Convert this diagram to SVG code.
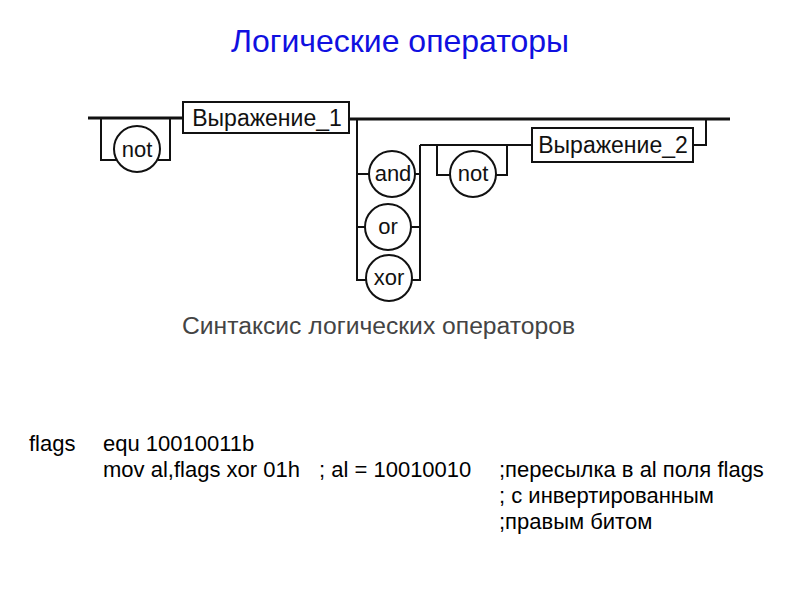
<svg xmlns="http://www.w3.org/2000/svg" width="800" height="600" viewBox="0 0 800 600">
<style>
.ln{fill:none;stroke:#111;stroke-width:2}
.main{fill:none;stroke:#111;stroke-width:3}
.circ{fill:#fff;stroke:#111;stroke-width:2}
.box{fill:#fff;stroke:#111;stroke-width:2}
.lbl{font-family:"Liberation Sans",Arial,sans-serif;font-size:22px;fill:#111;text-anchor:middle}
.code{font-family:"Liberation Sans",Arial,sans-serif;font-size:22px;fill:#000}
</style>
<rect width="800" height="600" fill="#fff"/>
<text x="400" y="52" style="font-family:'Liberation Sans',Arial,sans-serif;font-size:32px;fill:#1010e0" text-anchor="middle">Логические операторы</text>
<g id="connectors">
<path class="main" d="M88,118 H183"/>
<path class="ln" d="M101,118 V160 H117"/>
<path class="ln" d="M158,160 H170 V118"/>
<path class="main" d="M349,119 H730"/>
<path class="ln" d="M357,119 V280 H366"/>
<path class="ln" d="M357,174 H369"/>
<path class="ln" d="M357,227 H366"/>
<path class="ln" d="M420,145 V280 H411"/>
<path class="ln" d="M415,174 H420"/>
<path class="ln" d="M411,227 H420"/>
<path class="ln" d="M420,145 H532"/>
<path class="ln" d="M437,145 V175 H451"/>
<path class="ln" d="M496,175 H507 V145"/>
<path class="ln" d="M693,145 H706 V119"/>
</g>
<g id="not1">
<circle class="circ" cx="137" cy="149" r="23"/>
<text class="lbl" x="137" y="157">not</text>
</g>
<g id="expr1">
<rect class="box" x="183" y="102" width="166" height="31"/>
<text class="lbl" x="267" y="126" style="font-size:23px">Выражение_1</text>
</g>
<g id="and">
<circle class="circ" cx="392" cy="174" r="23"/>
<text class="lbl" x="393" y="181">and</text>
</g>
<g id="or">
<circle class="circ" cx="388" cy="227" r="23"/>
<text class="lbl" x="388" y="234">or</text>
</g>
<g id="xor">
<circle class="circ" cx="389" cy="278" r="23"/>
<text class="lbl" x="389" y="285">xor</text>
</g>
<g id="not2">
<circle class="circ" cx="473" cy="174" r="23"/>
<text class="lbl" x="473" y="181">not</text>
</g>
<g id="expr2">
<rect class="box" x="532" y="128" width="161" height="34"/>
<text class="lbl" x="613" y="153" style="font-size:23px">Выражение_2</text>
</g>
<text x="182" y="334" style="font-family:'Liberation Sans',Arial,sans-serif;font-size:23px;fill:#444" textLength="393" lengthAdjust="spacingAndGlyphs">Синтаксис логических операторов</text>
<g class="code">
<text x="29" y="451">flags</text>
<text x="103" y="451">equ 10010011b</text>
<text x="103" y="477">mov al,flags xor 01h</text>
<text x="319" y="477">; al = 10010010</text>
<text x="499" y="477">;пересылка в al поля flags</text>
<text x="499" y="503">; с инвертированным</text>
<text x="499" y="529">;правым битом</text>
</g>
</svg>
